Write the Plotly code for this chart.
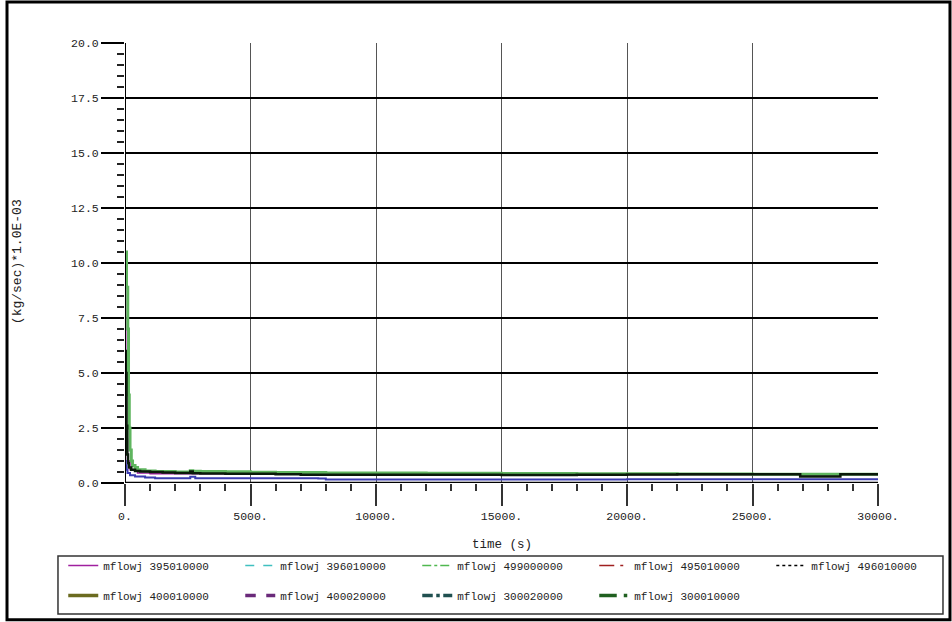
import plotly.graph_objects as go

# ---------------- data ----------------
series_names = ["mflowj 395010000", "mflowj 396010000", "mflowj 499000000",
                "mflowj 495010000", "mflowj 496010000", "mflowj 400010000",
                "mflowj 400020000", "mflowj 300020000", "mflowj 300010000"]

t_green = [0, 60, 110, 140, 170, 200, 250, 300, 400, 500, 800, 1200, 2000, 2600, 2700,
           3000, 4000, 5000, 6000, 8000, 10000, 12000, 15000, 18000, 20000, 22000,
           25000, 28000, 30000]
v_green = [10.5, 8.9, 7.0, 4.0, 2.5, 1.5, 1.0, 0.8, 0.7, 0.6, 0.55, 0.52, 0.5, 0.56,
           0.53, 0.52, 0.51, 0.49, 0.48, 0.46, 0.45, 0.44, 0.43, 0.42, 0.42, 0.41,
           0.40, 0.40, 0.40]

t_black = [0, 30, 60, 90, 120, 150, 250, 400, 600, 1000, 1500, 2000, 2500, 2600, 2700,
           3000, 4000, 5000, 6000, 7000, 8000, 10000, 12000, 15000, 18000, 20000,
           22000, 25000, 26800, 26900, 28400, 28500, 30000]
v_black = [6.0, 5.0, 2.6, 1.3, 0.9, 0.7, 0.6, 0.55, 0.52, 0.5, 0.48, 0.46, 0.45, 0.52,
           0.44, 0.43, 0.42, 0.42, 0.40, 0.38, 0.38, 0.37, 0.37, 0.36, 0.37, 0.39,
           0.40, 0.40, 0.40, 0.30, 0.30, 0.40, 0.40]

t_blue = [0, 30, 60, 100, 200, 400, 800, 1200, 2000, 2500, 2600, 2800, 4000, 6000,
          7700, 8000, 12000, 16000, 20000, 25000, 30000]
v_blue = [1.0, 0.8, 0.6, 0.45, 0.35, 0.3, 0.25, 0.22, 0.22, 0.22, 0.28, 0.22, 0.22,
          0.22, 0.2, 0.16, 0.16, 0.16, 0.17, 0.17, 0.17]

t_magenta = [0, 10, 30, 60, 100, 200, 500, 1000, 5000, 15000, 30000]
v_magenta = [10.0, 9.0, 5.0, 2.0, 1.0, 0.6, 0.45, 0.42, 0.40, 0.38, 0.37]

x_tickvals = [0, 5000, 10000, 15000, 20000, 25000, 30000]
x_ticktext = ["0.", "5000.", "10000.", "15000.", "20000.", "25000.", "30000."]
y_tickvals = [0, 2.5, 5, 7.5, 10, 12.5, 15, 17.5, 20]
y_ticktext = ["0.0", "2.5", "5.0", "7.5", "10.0", "12.5", "15.0", "17.5", "20.0"]

# legend styles
leg_colors = ["#a0209f", "#40c0c0", "#4fb84f", "#a02020", "#000000",
              "#6b6b20", "#6a2a7a", "#205050", "#206020"]
leg_dash = ["solid", "dash", "dashdot", "longdashdot", "dot",
            "solid", "dash", "dashdot", "longdashdot"]
leg_width = [1.5, 1.5, 1.5, 1.5, 1.5, 3.5, 3.5, 3.5, 3.5]
leg_group = ["legend", "legend", "legend", "legend", "legend3",
             "legend2", "legend2", "legend2", "legend2"]

MONO = "Liberation Mono, DejaVu Sans Mono, monospace"

fig = go.Figure()

# data traces
fig.add_trace(go.Scatter(x=t_magenta, y=v_magenta, mode="lines", showlegend=False,
                         line=dict(color="#a0209f", width=1.5), line_shape="hv"))
fig.add_trace(go.Scatter(x=t_green, y=v_green, mode="lines", showlegend=False,
                         line=dict(color="#5fb55f", width=3), line_shape="hv"))
fig.add_trace(go.Scatter(x=t_black, y=v_black, mode="lines", showlegend=False,
                         line=dict(color="#0a1a0a", width=2.5), line_shape="hv"))
fig.add_trace(go.Scatter(x=t_blue, y=v_blue, mode="lines", showlegend=False,
                         line=dict(color="#3b3bb0", width=2), line_shape="hv"))

# legend entries
for name, c, d, w, g in zip(series_names, leg_colors, leg_dash, leg_width, leg_group):
    fig.add_trace(go.Scatter(x=[None], y=[None], mode="lines", name=name, legend=g,
                             line=dict(color=c, dash=d, width=w)))

leg_common = dict(orientation="h", xanchor="left", yanchor="top",
                  borderwidth=0, bgcolor="rgba(0,0,0,0)",
                  entrywidth=132, entrywidthmode="pixels", itemwidth=30,
                  font=dict(family=MONO, size=11, color="#222"), tracegroupgap=0)

fig.update_layout(
    width=952, height=622,
    margin=dict(l=125, r=74, t=43, b=139),
    paper_bgcolor="white", plot_bgcolor="white",
    font=dict(family=MONO, size=12, color="#222"),
    xaxis=dict(range=[0, 30000], tickvals=x_tickvals, ticktext=x_ticktext,
               showgrid=True, gridcolor="#555", gridwidth=1,
               ticks="outside", ticklen=22, tickcolor="#333", tickwidth=1.5,
               zeroline=False, showline=False,
               minor=dict(dtick=1000, ticks="outside", ticklen=7, tickcolor="#333",
                          tickwidth=1.5, showgrid=False),
               tickfont=dict(family=MONO, size=11.5, color="#222")),
    yaxis=dict(range=[0, 20], tickvals=y_tickvals, ticktext=y_ticktext,
               showgrid=True, gridcolor="#000", gridwidth=1.5,
               ticks="outside", ticklen=23, tickcolor="#000", tickwidth=1.5,
               zeroline=False, showline=False,
               minor=dict(dtick=0.5, ticks="outside", ticklen=7, tickcolor="#222",
                          tickwidth=1.5, showgrid=False),
               tickfont=dict(family=MONO, size=11.5, color="#222")),
    legend=dict(x=-0.082, y=-0.1545, **leg_common),
    legend2=dict(x=-0.082, y=-0.2227, **leg_common),
    legend3=dict(xref="container", yref="container", x=0.8102, y=0.11415, **leg_common),
    annotations=[
        dict(text="(kg/sec)*1.0E-03", xref="paper", yref="paper", x=-0.1434, y=0.502,
             xanchor="center", yanchor="middle",
             textangle=-90, showarrow=False, font=dict(family=MONO, size=13, color="#222")),
        dict(text="time (s)", xref="paper", yref="paper", x=0.5, y=-0.141,
             xanchor="center", yanchor="middle",
             showarrow=False, font=dict(family=MONO, size=12.5, color="#222")),
    ],
    shapes=[
        # y axis line and x axis line
        dict(type="line", xref="x", yref="paper", x0=0, x1=0, y0=0, y1=1,
             line=dict(color="#000", width=2)),
        dict(type="line", xref="paper", yref="y", x0=0, x1=1, y0=0, y1=0,
             line=dict(color="#000", width=2.5)),
        # legend box
        dict(type="rect", xref="paper", yref="paper", x0=-0.089, x1=1.0863,
             y0=-0.2977, y1=-0.1659, line=dict(color="#333", width=1.5)),
        # outer frame of the image
        dict(type="rect", xref="paper", yref="paper", x0=-0.1567, x1=1.0956,
             y0=-0.311, y1=1.093, line=dict(color="#000", width=3), layer="below"),
    ],
)

fig.write_html("out.html", config={"displayModeBar": False},
               post_script="document.body.style.margin='0';")
